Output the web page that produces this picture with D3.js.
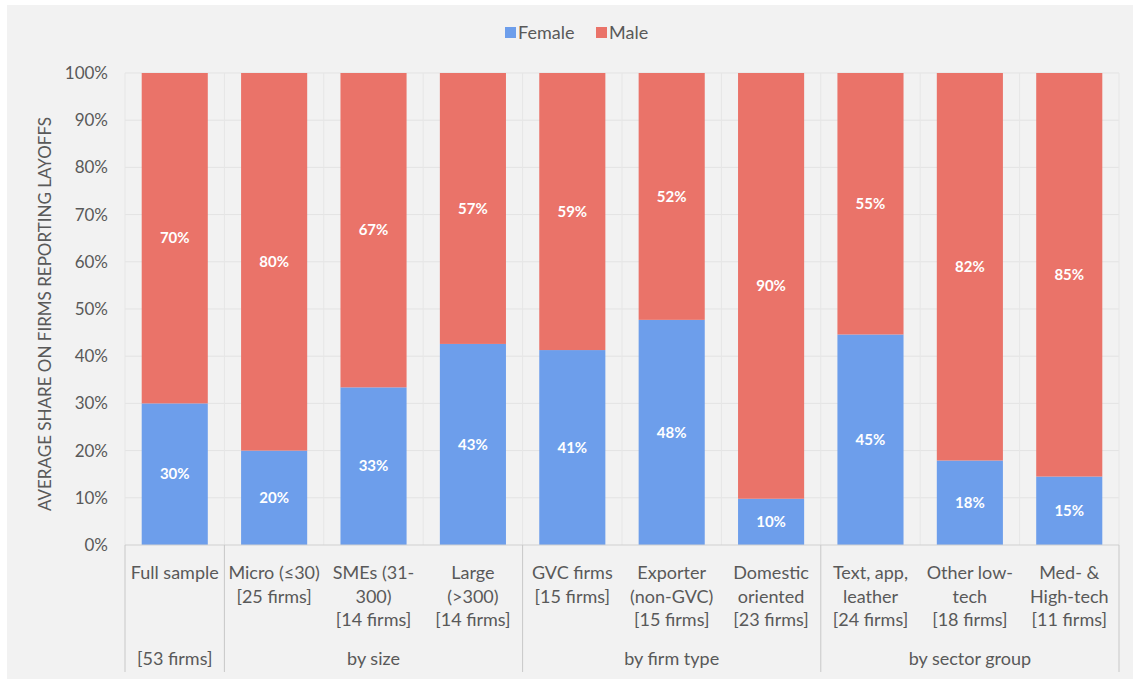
<!DOCTYPE html>
<html>
<head>
<meta charset="utf-8">
<script src="https://cdn.jsdelivr.net/npm/d3@7"></script>
<style>
  body { margin: 0; background: #fff; }
  text { font-family: Lato, "Open Sans", sans-serif; }
</style>
</head>
<body>
<div class="chart"></div>
<script>
// data
var categories = ["full", "micro", "sme", "large", "gvc", "exporter", "domestic", "textile", "lowtech", "hightech"];
var categoryLines = [
  ["Full sample"],
  ["Micro (\u226430)", "[25 firms]"],
  ["SMEs (31-", "300)", "[14 firms]"],
  ["Large", "(>300)", "[14 firms]"],
  ["GVC firms", "[15 firms]"],
  ["Exporter", "(non-GVC)", "[15 firms]"],
  ["Domestic", "oriented", "[23 firms]"],
  ["Text, app,", "leather", "[24 firms]"],
  ["Other low-", "tech", "[18 firms]"],
  ["Med- &", "High-tech", "[11 firms]"]
];
var female = [30, 20, 33.4, 42.6, 41.3, 47.7, 9.8, 44.6, 17.9, 14.5];
var male = [70, 80, 66.6, 57.4, 58.7, 52.3, 90.2, 55.4, 82.1, 85.5];
var femaleLabels = ["30%", "20%", "33%", "43%", "41%", "48%", "10%", "45%", "18%", "15%"];
var maleLabels = ["70%", "80%", "67%", "57%", "59%", "52%", "90%", "55%", "82%", "85%"];
var groups = [
  {label: "[53 firms]", from: 0, to: 0},
  {label: "by size", from: 1, to: 3},
  {label: "by firm type", from: 4, to: 6},
  {label: "by sector group", from: 7, to: 9}
];
var yTicks = [0, 10, 20, 30, 40, 50, 60, 70, 80, 90, 100];

var svgWidth = 1134;
var svgHeight = 679;
var margin = {top: 73, right: 15, bottom: 134, left: 125};
var width = svgWidth - margin.left - margin.right;
var height = svgHeight - margin.top - margin.bottom;

var femaleColor = "#6d9eeb";
var maleColor = "#ea7369";
var textColor = "#595959";

var svg = d3.select(".chart").append("svg")
  .attr("width", svgWidth)
  .attr("height", svgHeight);

// grey chart background
svg.append("rect")
  .attr("x", 7).attr("y", 5)
  .attr("width", 1126).attr("height", 674)
  .attr("fill", "#f2f2f2");

var chartGroup = svg.append("g")
  .attr("transform", `translate(${margin.left}, ${margin.top})`);

var x = d3.scaleBand()
  .domain(categories)
  .range([0, width])
  .paddingInner(0.335)
  .paddingOuter(0.168);

var step = width / categories.length;

var y = d3.scaleLinear()
  .domain([0, 100])
  .range([height, 0]);

// gridlines
chartGroup.append("g")
  .selectAll("line")
  .data(yTicks.slice(1))
  .enter()
  .append("line")
  .attr("x1", 0).attr("x2", width)
  .attr("y1", d => y(d)).attr("y2", d => y(d))
  .attr("stroke", "#e3e3e3");

chartGroup.append("g")
  .selectAll("line")
  .data(d3.range(categories.length + 1))
  .enter()
  .append("line")
  .attr("x1", i => i * step).attr("x2", i => i * step)
  .attr("y1", 0).attr("y2", height)
  .attr("stroke", "#e6e6e6");

// y axis
var leftAxis = d3.axisLeft(y)
  .tickValues(yTicks)
  .tickFormat(d => d + "%")
  .tickSize(0)
  .tickPadding(17);

var yAxis = chartGroup.append("g").call(leftAxis);
yAxis.select(".domain").remove();
yAxis.selectAll("text")
  .attr("fill", textColor)
  .style("font-size", "17px")
  .style("font-family", "Lato, sans-serif");

// stacked bars
var stackData = categories.map((c, i) => ({cat: c, female: female[i], male: male[i]}));
var stack = d3.stack().keys(["female", "male"])(stackData);
var colors = {female: femaleColor, male: maleColor};
var labels = {female: femaleLabels, male: maleLabels};

stack.forEach(function(layer) {
  var g = chartGroup.append("g");
  g.selectAll("rect")
    .data(layer)
    .enter()
    .append("rect")
    .attr("x", d => x(d.data.cat))
    .attr("y", d => y(d[1]))
    .attr("width", x.bandwidth())
    .attr("height", d => y(d[0]) - y(d[1]))
    .attr("fill", colors[layer.key]);

  g.selectAll("text")
    .data(layer)
    .enter()
    .append("text")
    .attr("x", d => x(d.data.cat) + x.bandwidth() / 2)
    .attr("y", d => (y(d[0]) + y(d[1])) / 2)
    .attr("dy", "0.35em")
    .attr("text-anchor", "middle")
    .attr("fill", "#fff")
    .style("font-size", "15px")
    .style("font-weight", "bold")
    .text((d, i) => labels[layer.key][i]);
});

// x axis line and group separators
chartGroup.append("line")
  .attr("x1", 0).attr("x2", width)
  .attr("y1", height).attr("y2", height)
  .attr("stroke", "#d0d0d0");

var bounds = [0].concat(groups.map(g => g.to + 1));
chartGroup.append("g")
  .selectAll("line")
  .data(bounds)
  .enter()
  .append("line")
  .attr("x1", b => b * step).attr("x2", b => b * step)
  .attr("y1", height).attr("y2", height + 127)
  .attr("stroke", "#c8c8c8");

// category labels
var catLabels = chartGroup.append("g");
categories.forEach(function(c, i) {
  var t = catLabels.append("text")
    .attr("x", x(c) + x.bandwidth() / 2)
    .attr("y", height + 34)
    .attr("text-anchor", "middle")
    .attr("fill", textColor)
    .style("font-size", "18px");
  categoryLines[i].forEach(function(line, j) {
    t.append("tspan")
      .attr("x", x(c) + x.bandwidth() / 2)
      .attr("dy", j === 0 ? 0 : "1.31em")
      .text(line);
  });
});

// group labels
chartGroup.append("g")
  .selectAll("text")
  .data(groups)
  .enter()
  .append("text")
  .attr("x", g => (g.from + g.to + 1) / 2 * step)
  .attr("y", height + 120)
  .attr("text-anchor", "middle")
  .attr("fill", textColor)
  .style("font-size", "18px")
  .text(g => g.label);

// y axis title
svg.append("text")
  .attr("transform", `translate(51, ${margin.top + height / 2 + 5}) rotate(-90)`)
  .attr("text-anchor", "middle")
  .attr("fill", textColor)
  .style("font-size", "17px")
  .text("AVERAGE SHARE ON FIRMS REPORTING LAYOFFS");

// legend
var legend = svg.append("g").attr("transform", "translate(505, 33)");
var legendItems = [
  {name: "Female", color: femaleColor, x: 0},
  {name: "Male", color: maleColor, x: 91}
];
legendItems.forEach(function(item) {
  legend.append("rect")
    .attr("x", item.x).attr("y", -6)
    .attr("width", 11).attr("height", 11)
    .attr("fill", item.color);
  legend.append("text")
    .attr("x", item.x + 13)
    .attr("y", 0)
    .attr("dy", "0.35em")
    .attr("fill", textColor)
    .style("font-size", "18px")
    .text(item.name);
});
</script>
</body>
</html>
